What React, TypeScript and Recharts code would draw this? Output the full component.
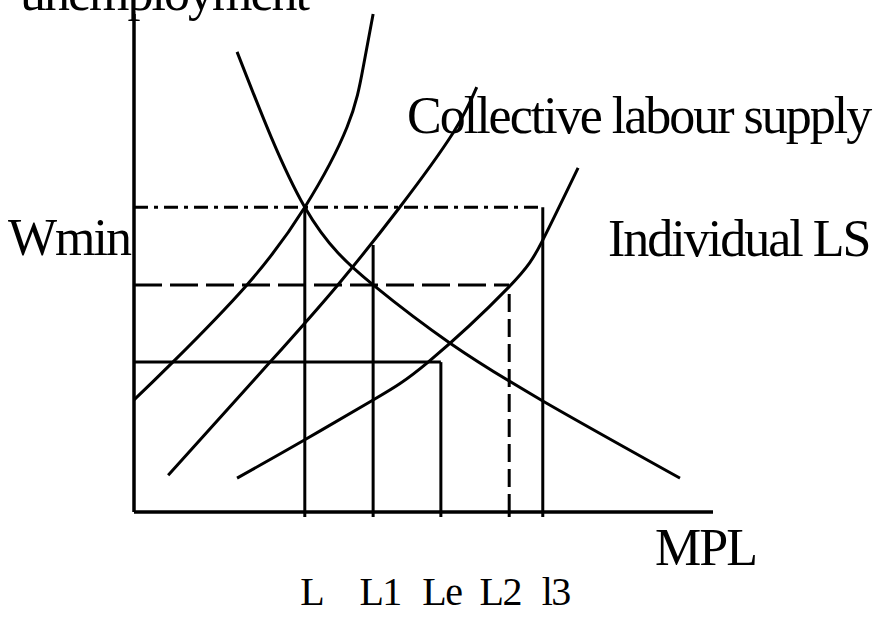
import { ComposedChart, Line, XAxis, YAxis, ReferenceLine } from 'recharts';

// quantity of labour on x, wage on y (0..100 each)
const demand = [
  { x: 17.8, y: 92.4 },
  { x: 29.5, y: 61.2 },
  { x: 41.3, y: 45.6 },
  { x: 54.6, y: 33.9 },
  { x: 70.6, y: 22.3 },
  { x: 94.3, y: 6.8 },
];

const supplySteep = [
  { x: 0, y: 22.5 },
  { x: 6.7, y: 30.1 },
  { x: 19.5, y: 45.6 },
  { x: 29.5, y: 61.2 },
  { x: 36.8, y: 77.3 },
  { x: 39.6, y: 89.4 },
  { x: 41.3, y: 100 },
];

const supplyCollective = [
  { x: 5.9, y: 7.4 },
  { x: 23.5, y: 30.1 },
  { x: 35.2, y: 45.6 },
  { x: 45.9, y: 61.2 },
  { x: 55.1, y: 76.1 },
  { x: 59.2, y: 85.3 },
];

const supplyIndividual = [
  { x: 17.8, y: 6.8 },
  { x: 29.5, y: 14.5 },
  { x: 41.3, y: 22.5 },
  { x: 50.8, y: 30.1 },
  { x: 64.6, y: 45.0 },
  { x: 70.6, y: 54.6 },
  { x: 76.7, y: 69.1 },
];

const tickLabels = ['L', 'L1', 'Le', 'L2', 'l3'];
const tickValues = [29.5, 41.3, 53.0, 64.8, 70.6];
const verticalTops = [61.2, 53.6, 30.1, 45.6, 61.2];

// wage levels: dash-dot, dashed, solid, and how far right each runs
const wageLevels = [61.2, 45.6, 30.1];
const wageEnds = [70.6, 64.8, 53.0];

const serif = '"Liberation Serif", "Times New Roman", serif';
const labelNudge = [7, 7, 1, -9, 13];
const levelDash = ['14 6 4 6', '28 8', undefined];
const verticalDash = [undefined, undefined, undefined, '18 7', undefined];

function TickLabel(props: any) {
  const { x, y, index } = props;
  return (
    <text
      x={x + (labelNudge[index] ?? 0)}
      y={y}
      dy={88}
      textAnchor="middle"
      fontFamily={serif}
      fontSize={40}
      letterSpacing={-1.5}
      fill="#000"
    >
      {tickLabels[index]}
    </text>
  );
}

const curveProps = {
  type: 'natural' as const,
  dataKey: 'y',
  stroke: '#000',
  strokeWidth: 3,
  dot: false,
  activeDot: false,
  isAnimationActive: false,
};

export default function App() {
  return (
    <div style={{ position: 'absolute', left: 0, top: 0, width: 877, height: 617, background: '#fff' }}>
      <ComposedChart
        width={877}
        height={617}
        margin={{ top: 14, right: 164, bottom: 75, left: 74 }}
      >
        <XAxis
          type="number"
          dataKey="x"
          domain={[0, 100]}
          ticks={tickValues}
          height={30}
          axisLine={{ stroke: '#000', strokeWidth: 3.5 }}
          tickLine={{ stroke: '#000', strokeWidth: 3 }}
          tickSize={5}
          tickMargin={0}
          tick={<TickLabel />}
          interval={0}
        />
        <YAxis
          type="number"
          domain={[0, 100]}
          width={60}
          tick={false}
          tickLine={false}
          axisLine={{ stroke: '#000', strokeWidth: 3.5 }}
        />
        {wageLevels.map((w, i) => (
          <ReferenceLine
            key={`w-${i}`}
            segment={[{ x: 0, y: w }, { x: wageEnds[i], y: w }]}
            stroke="#000"
            strokeWidth={3}
            strokeDasharray={levelDash[i]}
          />
        ))}
        {tickValues.map((v, i) => (
          <ReferenceLine
            key={`v-${i}`}
            segment={[{ x: v, y: 0 }, { x: v, y: verticalTops[i] }]}
            stroke="#000"
            strokeWidth={3}
            strokeDasharray={verticalDash[i]}
          />
        ))}
        <Line data={demand} {...curveProps} />
        <Line data={supplySteep} {...curveProps} />
        <Line data={supplyCollective} {...curveProps} />
        <Line data={supplyIndividual} {...curveProps} />
      </ComposedChart>
      <svg
        width={877}
        height={617}
        style={{ position: 'absolute', left: 0, top: 0, pointerEvents: 'none' }}
        fontFamily={serif}
        fontSize={52}
        letterSpacing={-2}
      >
        <text x={20} y={10}>unemployment</text>
        <text x={407} y={133}>Collective labour supply</text>
        <text x={8} y={255}>Wmin</text>
        <text x={608} y={256}>Individual LS</text>
        <text x={655} y={565}>MPL</text>
      </svg>
    </div>
  );
}
